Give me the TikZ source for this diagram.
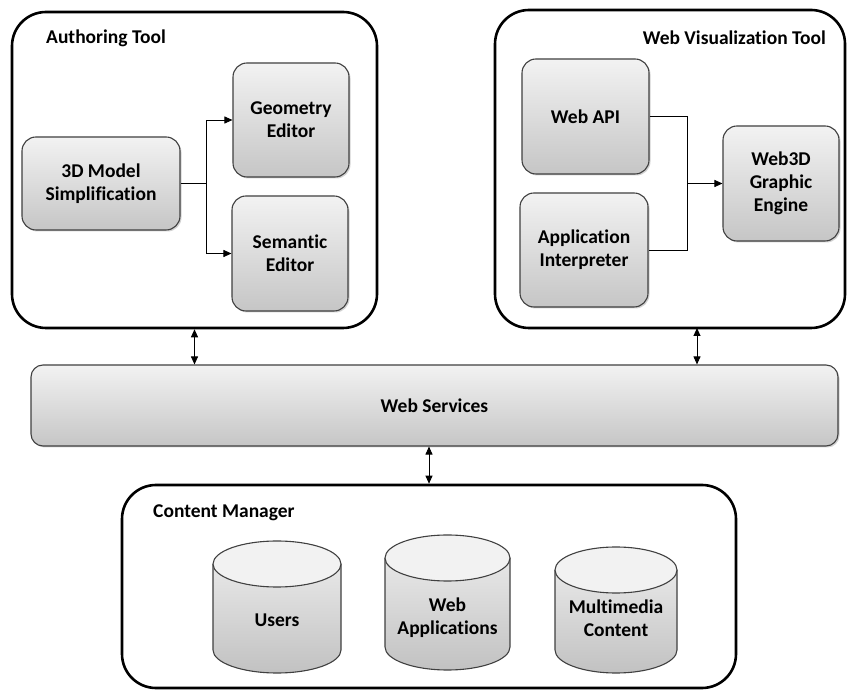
\documentclass[tikz,border=0pt]{standalone}
\usepackage{fontspec}
\setmainfont{Carlito}[Ligatures=NoCommon]
\usetikzlibrary{arrows.meta,shadows}

% database drum: #1 name, #2 centre x, #3 half width, #4 top-ellipse y, #5 bottom-ellipse y, #6 label y, #7 label
\newcommand{\drum}[7]{%
  \shade[top color=gray!12, bottom color=gray!48]
    (#2-#3,#4) -- (#2-#3,#5) arc[start angle=180, end angle=360, x radius=#3, y radius=23]
    -- (#2+#3,#4) arc[start angle=0, end angle=180, x radius=#3, y radius=23] -- cycle;
  \draw[drumline]
    (#2-#3,#4) -- (#2-#3,#5) arc[start angle=180, end angle=360, x radius=#3, y radius=23]
    -- (#2+#3,#4);
  \draw[drumline, fill=gray!10] (#2,#4) ellipse[x radius=#3, y radius=23];
  \node[lbl, align=center] (#1) at (#2,#6) {#7};
}

\begin{document}
\begin{tikzpicture}[x=1pt, y=1pt,
  group/.style={draw=black, line width=2.6pt, rounded corners=34pt, fill=white},
  lbl/.style={font=\bfseries\fontsize{19.5}{23}\selectfont, text=black, inner sep=0pt},
  comp/.style={lbl, draw=black!75, line width=1.1pt, rounded corners=14pt,
    top color=gray!10, bottom color=gray!45, align=center,
    drop shadow={shadow xshift=1.5pt, shadow yshift=-1.5pt, opacity=0.35}},
  drumline/.style={draw=black!75, line width=1.1pt},
  link/.style={draw=black, line width=0.9pt},
  tip/.style={-{Triangle[length=8pt,width=7pt]}},
  both/.style={{Triangle[length=8pt,width=7pt]}-{Triangle[length=8pt,width=7pt]}}
]
\useasboundingbox (0,0) rectangle (848,690);

% outer groups
\node[group, minimum width=365pt, minimum height=316pt] (at) at (194.5,520) {};
\node[group, minimum width=350pt, minimum height=318pt] (wvt) at (670,521) {};
\node[group, minimum width=614pt, minimum height=203pt] (cm) at (429,103.5) {};

\node[lbl, anchor=west] (atlbl) at (46,652) {Authoring Tool};
\node[lbl, anchor=east] (wvtlbl) at (826,652) {Web Visualization Tool};
\node[lbl, anchor=west] (cmlbl) at (153,177) {Content Manager};

% authoring tool components
\node[comp, minimum width=158pt, minimum height=93pt] (m3d) at (101,506.5) {3D Model\\Simplification};
\node[comp, minimum width=116pt, minimum height=114pt] (geo) at (291,570) {Geometry\\Editor};
\node[comp, minimum width=116pt, minimum height=115pt] (sem) at (290,436.5) {Semantic\\Editor};

% web visualization components
\node[comp, minimum width=127pt, minimum height=115pt] (api) at (585.5,573.5) {Web API};
\node[comp, minimum width=128pt, minimum height=114pt] (app) at (584,440) {Application\\Interpreter};
\node[comp, minimum width=116pt, minimum height=115pt] (w3d) at (781,506.5) {Web3D\\Graphic\\Engine};

% web services bar
\node[comp, rounded corners=12pt, minimum width=807pt, minimum height=81pt] (ws) at (434.5,284.5) {Web Services};

% content stores
\drum{users}{277}{64}{126}{40}{70}{Users}
\drum{webapps}{447.5}{62.5}{132}{43}{72.5}{Web\\Applications}
\drum{media}{616}{61}{120}{40}{71.5}{Multimedia\\Content}

% authoring tool links
\coordinate (aj) at (206,506.5);
\draw[link] (m3d.east) -- (aj);
\draw[link, tip] (aj) |- (geo.west);
\draw[link, tip] (aj) |- (sem.west);

% visualization links
\coordinate (vj) at (687,506.5);
\draw[link] (api.east) -| (vj) |- (app.east);
\draw[link, tip] (vj) -- (w3d.west);

% links to web services
\coordinate (wvtport) at (697,362);
\draw[link, both] (at.south) -- (at.south |- ws.north);
\draw[link, both] (wvtport) -- (wvtport |- ws.north);
\draw[link, both] (ws.south -| cm.north) -- (cm.north);
\end{tikzpicture}
\end{document}
